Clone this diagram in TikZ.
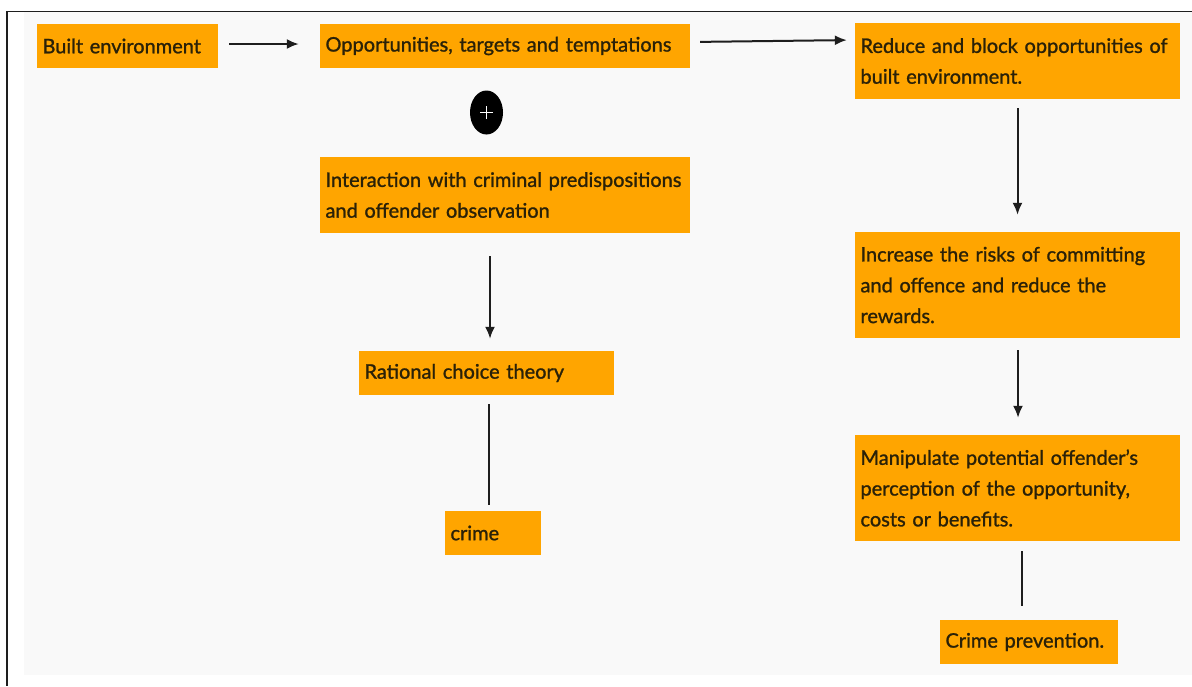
\documentclass[tikz,border=0pt]{standalone}
\usepackage{fontspec}
\setmainfont{Lato}
\newfontfamily\boxfamily[FakeBold=1.2,Ligatures=TeX]{Lato}
\usetikzlibrary{arrows.meta,shapes.geometric}
\definecolor{boxorange}{HTML}{FFA500}
\definecolor{boxtext}{HTML}{2A2108}
\definecolor{panelgray}{HTML}{F9F9F9}
\definecolor{linedark}{HTML}{1E1E1E}
\newcommand{\boxfont}{\boxfamily\fontsize{20}{30.8}\selectfont}
\tikzset{
  obox/.style n args={2}{rectangle, fill=boxorange, text=boxtext, font=\boxfont,
    minimum width=#1, minimum height=#2, text width=#1-11pt, align=left,
    inner xsep=5.5pt, inner ysep=0pt},
  conn/.style={draw=linedark, line width=2pt},
  arr/.style={conn, -{Latex[length=12pt,width=10pt]}},
}
\begin{document}
\begin{tikzpicture}[x=1pt,y=-1pt]
\useasboundingbox (0,0) rectangle (1192,686);
% panel and frame
\fill[white] (0,0) rectangle (1192,686);
\fill[panelgray] (24,12) rectangle (1192,675);
\draw[linedark, line width=1pt] (7,11.5) -- (1192,11.5);
\draw[linedark, line width=1.6pt] (7,11) -- (7,686);

% left chain
\node[obox={181pt}{44pt}] (be) at (127.5,46) {Built environment};
\node[obox={370pt}{44pt}] (opp) at (505,46) {Opportunities, targets and temptations};
\node[ellipse, fill=black, minimum width=33pt, minimum height=44pt, inner sep=0pt] (plus) at (486.5,112.5) {};
\draw[white, line width=1.8pt] ([xshift=-6.5pt]plus.center) -- ([xshift=6.5pt]plus.center);
\draw[white, line width=1.8pt] ([yshift=-6.5pt]plus.center) -- ([yshift=6.5pt]plus.center);
\node[obox={370pt}{76pt}] (int) at (505,195) {Interaction with criminal predispositions\\and offender observation};
\node[obox={255pt}{44pt}] (rat) at (486.5,373) {Rational choice theory};
\node[obox={96pt}{44pt}] (crime) at (493,533) {crime};

% right chain
\node[obox={325pt}{76pt}] (red) at (1017.5,61) {Reduce and block opportunities of\\built environment.};
\node[obox={325pt}{106pt}] (inc) at (1017.5,285) {Increase the risks of committing\\and offence and reduce the\\rewards.};
\node[obox={325pt}{106pt}] (man) at (1017.5,488) {Manipulate potential offender’s\\perception of the opportunity,\\costs or benefits.};
\node[obox={178pt}{44pt}] (cp) at (1029,642) {Crime prevention.};

% connectors
\draw[arr, shorten <=11pt, shorten >=21pt] ([yshift=2pt]be.east) -- ([yshift=2pt]opp.west);
\draw[arr, shorten <=10pt, shorten >=8pt] ([yshift=4pt]opp.east) -- ([yshift=21pt]red.west);
\draw[arr, shorten <=23pt, shorten >=12pt] ([xshift=-15pt]int.south) -- ([xshift=3.5pt]rat.north);
\draw[conn, shorten <=9pt, shorten >=6pt] ([xshift=2.5pt]rat.south) -- ([xshift=-4pt]crime.north);
\draw[arr, shorten <=9pt, shorten >=17pt] (red.south) -- (inc.north);
\draw[arr, shorten <=12pt, shorten >=17pt] ([xshift=0.5pt]inc.south) -- ([xshift=0.5pt]man.north);
\draw[conn, shorten <=10pt, shorten >=14pt] ([xshift=4.5pt]man.south) -- ([xshift=-7pt]cp.north);
\end{tikzpicture}
\end{document}
